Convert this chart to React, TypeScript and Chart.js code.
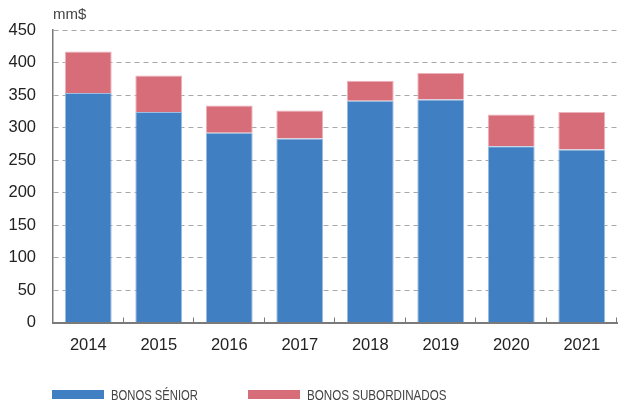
import React, { useEffect, useRef } from "react";
import { Chart, registerables } from "chart.js";

Chart.register(...registerables);

const years = ["2014", "2015", "2016", "2017", "2018", "2019", "2020", "2021"];
const seniorBonds = [353, 324, 292, 283, 341, 343, 271, 266];
const subordinatedBonds = [64, 56, 42, 43, 31, 41, 49, 58];
const seriesLabels = ["BONOS SÉNIOR", "BONOS SUBORDINADOS"];
const unitLabel = "mm$";
const yMin = 0;
const yMax = 450;
const yStep = 50;

const BLUE = "#4080c2";
const PINK = "#d86d7a";
const FONT = '"Liberation Sans", Arial, sans-serif';

const decorPlugin = {
  id: "decor",
  afterDraw(chart: any) {
    const { ctx, chartArea, scales } = chart;
    const x = scales.x;
    const n = chart.data.labels.length;
    ctx.save();
    // inward tick marks at category boundaries
    ctx.strokeStyle = "#7a7a7a";
    ctx.lineWidth = 1;
    for (let i = 0; i < n; i++) {
      const px =
        i < n - 1
          ? (x.getPixelForValue(i) + x.getPixelForValue(i + 1)) / 2
          : chartArea.right;
      const xx = Math.round(px) - 0.5;
      ctx.beginPath();
      ctx.moveTo(xx, chartArea.bottom);
      ctx.lineTo(xx, chartArea.bottom - 5);
      ctx.stroke();
    }
    // unit label
    ctx.fillStyle = "#444";
    ctx.font = "15px " + FONT;
    ctx.textAlign = "left";
    ctx.textBaseline = "alphabetic";
    ctx.fillText(unitLabel, chartArea.left, 19);

    // legend
    const legendX = [52, 248];
    const swY = 390;
    chart.data.datasets.forEach((ds: any, i: number) => {
      const lx = legendX[i];
      ctx.fillStyle = ds.backgroundColor;
      ctx.fillRect(lx, swY, 52, 9);
      ctx.save();
      ctx.translate(lx + 59, 400);
      ctx.scale(i === 0 ? 0.75 : 0.775, 1);
      ctx.fillStyle = "#444";
      ctx.font = "15px " + FONT;
      ctx.fillText(ds.label, 0, 0);
      ctx.restore();
    });
    ctx.restore();
  },
};

export default function App() {
  const ref = useRef<HTMLCanvasElement | null>(null);

  useEffect(() => {
    if (!ref.current) return;
    const chart = new Chart(ref.current, {
      type: "bar",
      data: {
        labels: years,
        datasets: [
          {
            label: seriesLabels[0],
            data: seniorBonds,
            backgroundColor: BLUE,
            borderColor: "#9cbde3",
            borderWidth: 1,
            barPercentage: 0.665,
            categoryPercentage: 1,
          },
          {
            label: seriesLabels[1],
            data: subordinatedBonds,
            backgroundColor: PINK,
            borderColor: "#ecb3ba",
            borderWidth: 1,
            barPercentage: 0.665,
            categoryPercentage: 1,
          },
        ],
      },
      options: {
        responsive: false,
        animation: false,
        devicePixelRatio: 1,
        layout: { padding: { top: 30, right: 2, bottom: 40, left: 0 } },
        plugins: {
          legend: { display: false },
          tooltip: { enabled: false },
        },
        scales: {
          x: {
            stacked: true,
            grid: { display: false, drawTicks: false },
            border: { display: true, color: "#7a7a7a", width: 2 },
            ticks: {
              color: "#222",
              font: { family: FONT, size: 16.5 },
              padding: 13,
            },
            afterFit: (scale: any) => {
              scale.height = 43.5;
            },
          },
          y: {
            stacked: true,
            min: yMin,
            max: yMax,
            ticks: {
              stepSize: yStep,
              color: "#222",
              font: { family: FONT, size: 16.5 },
              padding: 17,
            },
            grid: {
              drawTicks: false,
              color: (c: any) =>
                c.tick && c.tick.value === 0 ? "rgba(0,0,0,0)" : "#a8a8a8",
              lineWidth: 1,
            },
            border: { display: true, color: "#7a7a7a", width: 1.5, dash: [5, 4] },
            afterFit: (scale: any) => {
              scale.width = 53;
            },
          },
        },
      },
      plugins: [decorPlugin],
    });
    return () => chart.destroy();
  }, []);

  return (
    <div style={{ position: "absolute", left: 0, top: 0, width: 619, height: 406 }}>
      <canvas ref={ref} width={619} height={406} />
    </div>
  );
}
